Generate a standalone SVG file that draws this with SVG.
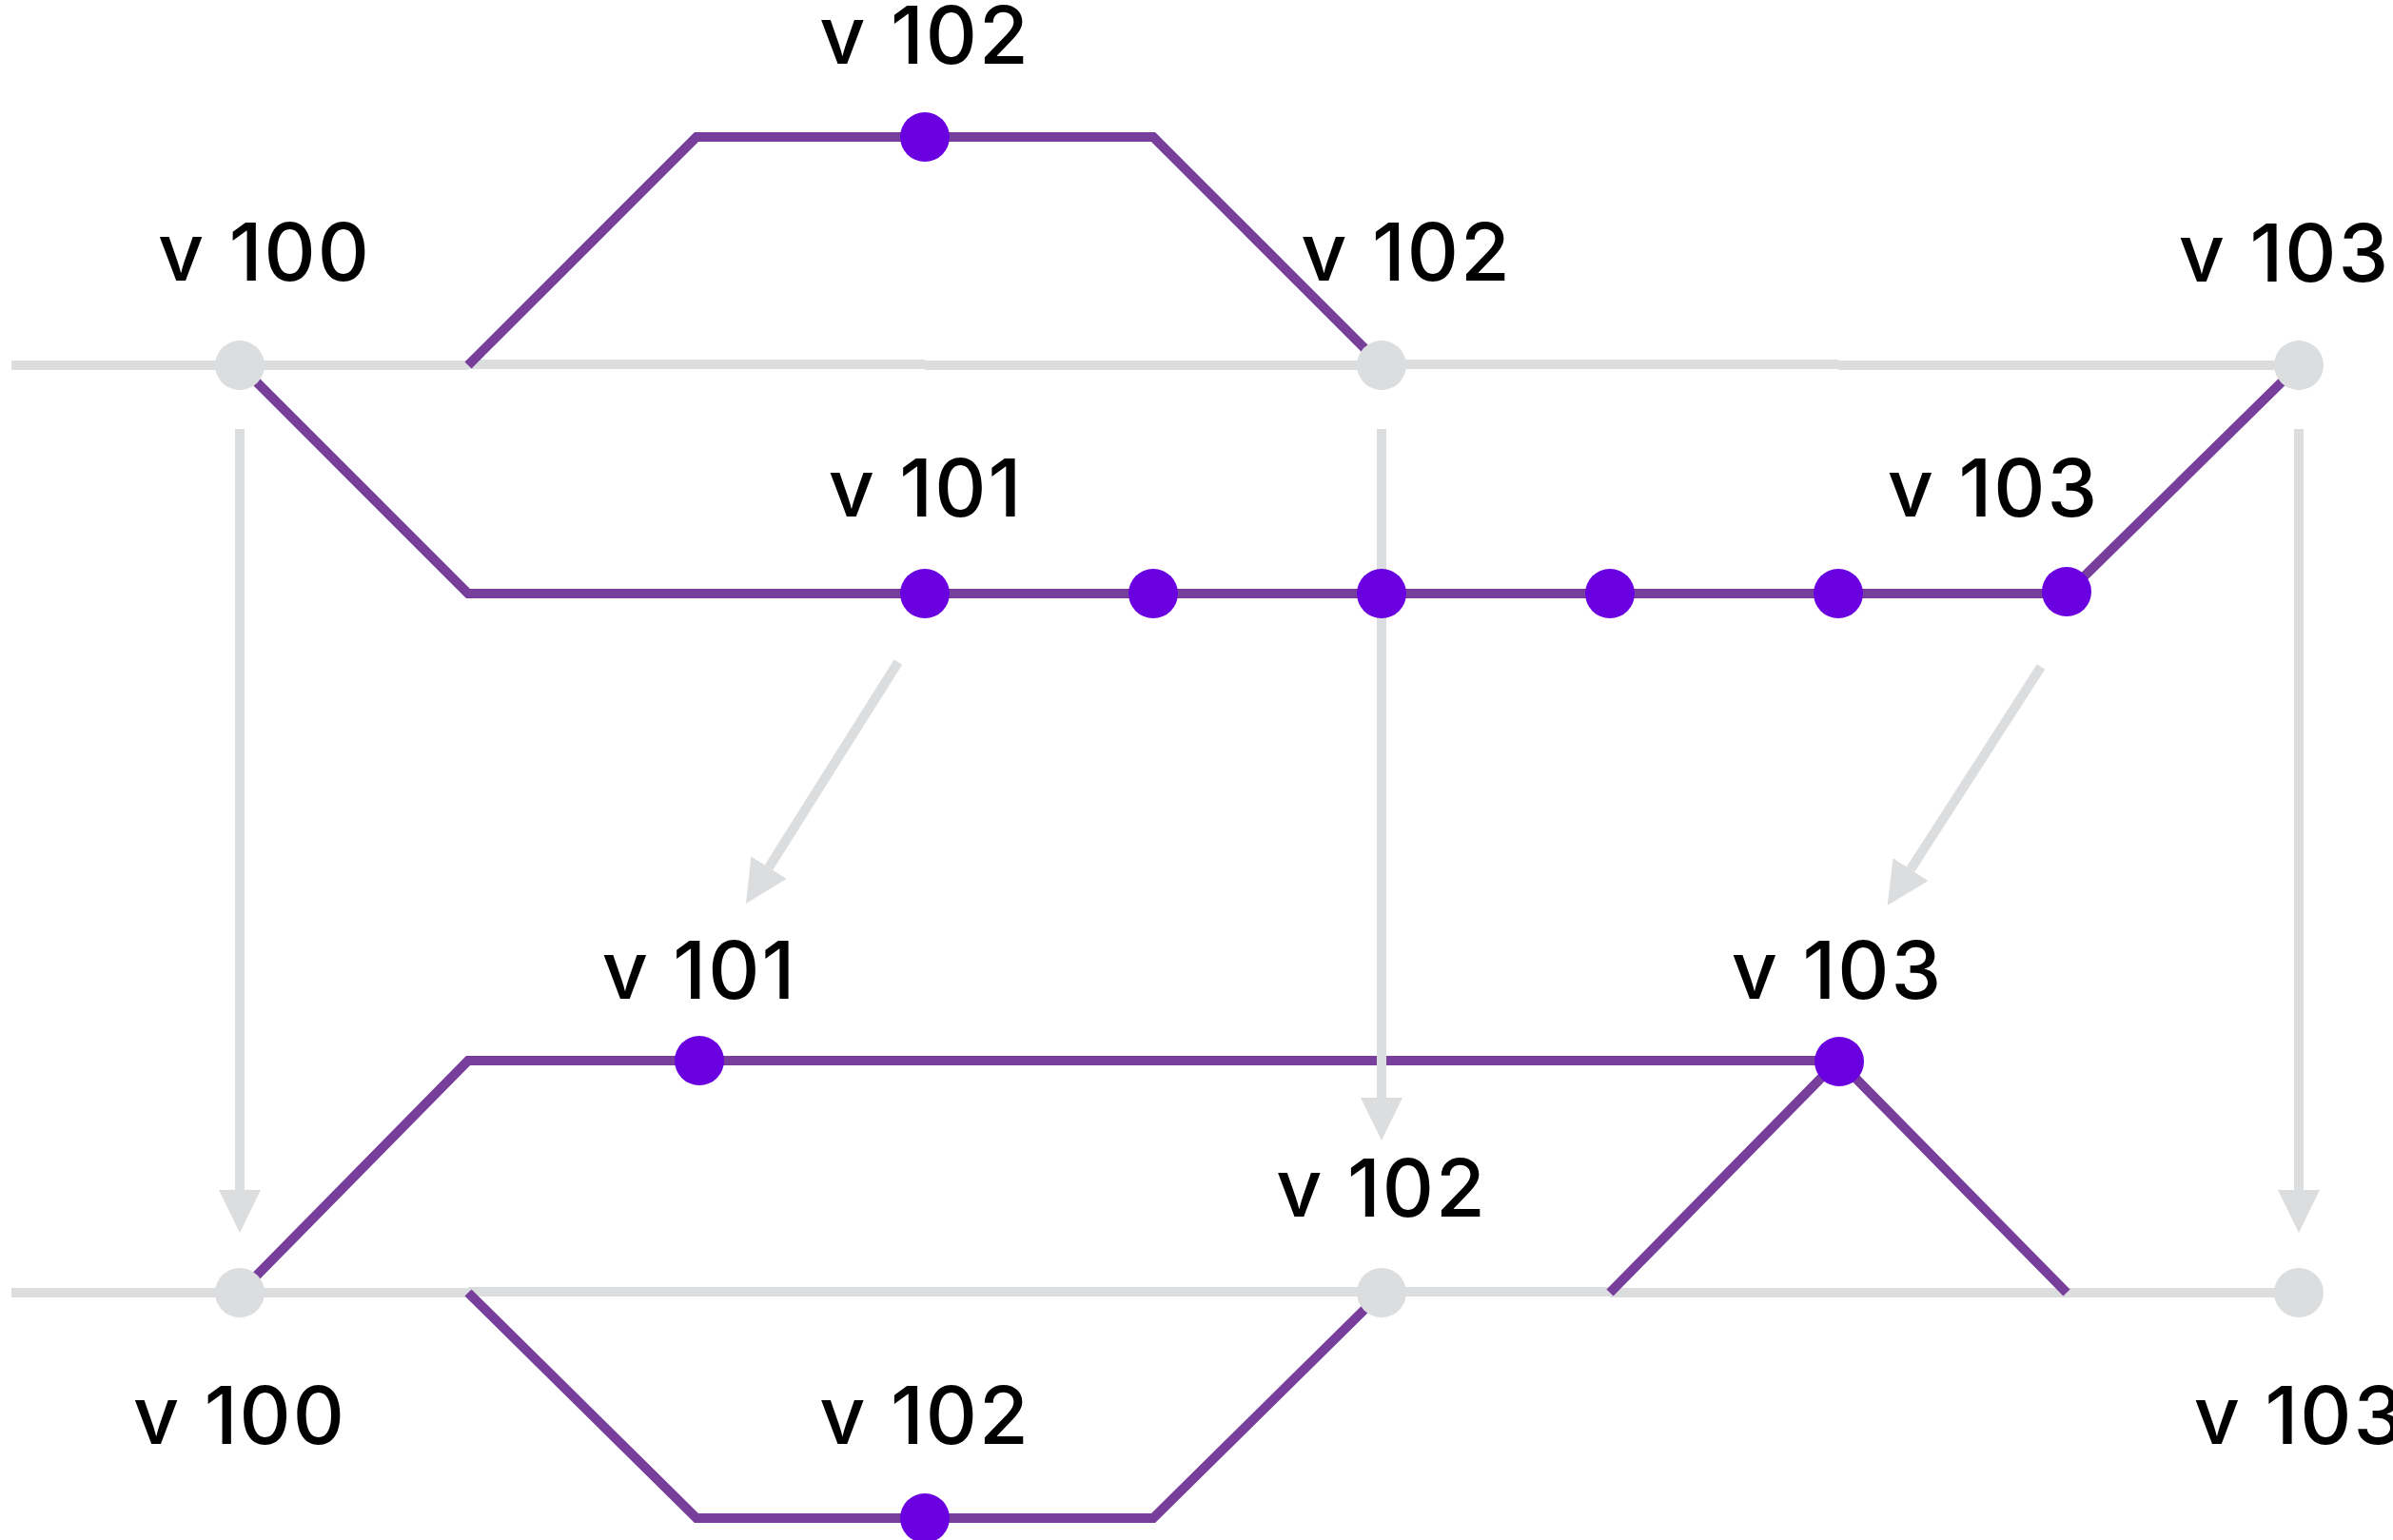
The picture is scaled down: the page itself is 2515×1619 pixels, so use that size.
<svg xmlns="http://www.w3.org/2000/svg" width="2515" height="1619" viewBox="0 0 2515 1619">
<style>
.g{stroke:#DCDDDF;stroke-width:10;fill:none}
.p{stroke:#773F9B;stroke-width:10;fill:none;stroke-linejoin:miter}
.a{stroke:#DCDDDF;stroke-width:10;fill:none;marker-end:url(#ah)}
.gn{fill:#DCDDDF}
.pd{fill:#6A00E0}
text{font-family:Inter,"Noto Sans","Liberation Sans",sans-serif;font-size:84px;font-weight:500;letter-spacing:2px;fill:#000;text-anchor:middle}
</style>
<defs>
<marker id="ah" markerUnits="userSpaceOnUse" markerWidth="46" markerHeight="46" viewBox="0 -23 46 46" refX="0" refY="0" orient="auto">
<path d="M0,-22 L45,0 L0,22 z" fill="#DCDDDF"/>
</marker>
</defs>
<rect width="2515" height="1619" fill="#fff"/>
<g id="connectors">
<g id="gray-lines">
<line class="g" x1="12" y1="384" x2="492" y2="384"/>
<line class="g" x1="492" y1="383" x2="972" y2="383"/>
<line class="g" x1="972" y1="384" x2="1452" y2="384"/>
<line class="g" x1="1452" y1="383" x2="1932" y2="383"/>
<line class="g" x1="1932" y1="384" x2="2416" y2="384"/>
<line class="g" x1="12" y1="1359" x2="492" y2="1359"/>
<line class="g" x1="492" y1="1358" x2="1212" y2="1358"/>
<line class="g" x1="1212" y1="1358" x2="1692" y2="1358"/>
<line class="g" x1="1692" y1="1359" x2="2416" y2="1359"/>
</g>
<g id="purple-lines">
<polyline class="p" points="492,384 732,144 1212,144 1442,374"/>
<polyline class="p" points="252,384 492,624 2172,624 2416,384"/>
<polyline class="p" points="252,1359 492,1115 1932,1115 2172,1359"/>
<polyline class="p" points="1692,1359 1932,1115"/>
<polyline class="p" points="492,1359 732,1596 1212,1596 1452,1359"/>
</g>
<g id="arrows">
<line class="a" x1="252" y1="451" x2="252" y2="1251"/>
<line class="a" x1="1452" y1="451" x2="1452" y2="1154"/>
<line class="a" x1="2416" y1="451" x2="2416" y2="1251"/>
<line class="a" x1="944" y1="696" x2="808" y2="912"/>
<line class="a" x1="2145" y1="701" x2="2008" y2="914"/>
</g>
</g>
<g id="node-top-v100"><circle class="gn" cx="252" cy="384" r="26"/><text x="278" y="295">v 100</text></g>
<g id="node-top-v102"><circle class="gn" cx="1452" cy="384" r="26"/><text x="1478" y="295">v 102</text></g>
<g id="node-top-v103"><circle class="gn" cx="2416" cy="384" r="26"/><text x="2401" y="296">v 103</text></g>
<g id="node-upper-v102"><circle class="pd" cx="972" cy="144" r="26"/><text x="972" y="67">v 102</text></g>
<g id="node-mid-v101"><circle class="pd" cx="972" cy="624" r="26"/><text x="973" y="543">v 101</text></g>
<g id="node-mid-2"><circle class="pd" cx="1212" cy="624" r="26"/></g>
<g id="node-mid-3"><circle class="pd" cx="1452" cy="624" r="26"/></g>
<g id="node-mid-4"><circle class="pd" cx="1692" cy="624" r="26"/></g>
<g id="node-mid-5"><circle class="pd" cx="1932" cy="624" r="26"/></g>
<g id="node-mid-v103"><circle class="pd" cx="2172" cy="622" r="26"/><text x="2095" y="543">v 103</text></g>
<g id="node-low-v101"><circle class="pd" cx="735" cy="1115" r="26"/><text x="735" y="1050">v 101</text></g>
<g id="node-low-v103"><circle class="pd" cx="1933" cy="1116" r="26"/><text x="1931" y="1050">v 103</text></g>
<g id="node-bottom-v100"><circle class="gn" cx="252" cy="1359" r="26"/><text x="252" y="1518">v 100</text></g>
<g id="node-bottom-v102"><circle class="gn" cx="1452" cy="1359" r="26"/><text x="1452" y="1279">v 102</text></g>
<g id="node-bottom-v103"><circle class="gn" cx="2416" cy="1359" r="26"/><text x="2417" y="1518">v 103</text></g>
<g id="node-lowest-v102"><circle class="pd" cx="972" cy="1596" r="26"/><text x="972" y="1518">v 102</text></g>
</svg>
